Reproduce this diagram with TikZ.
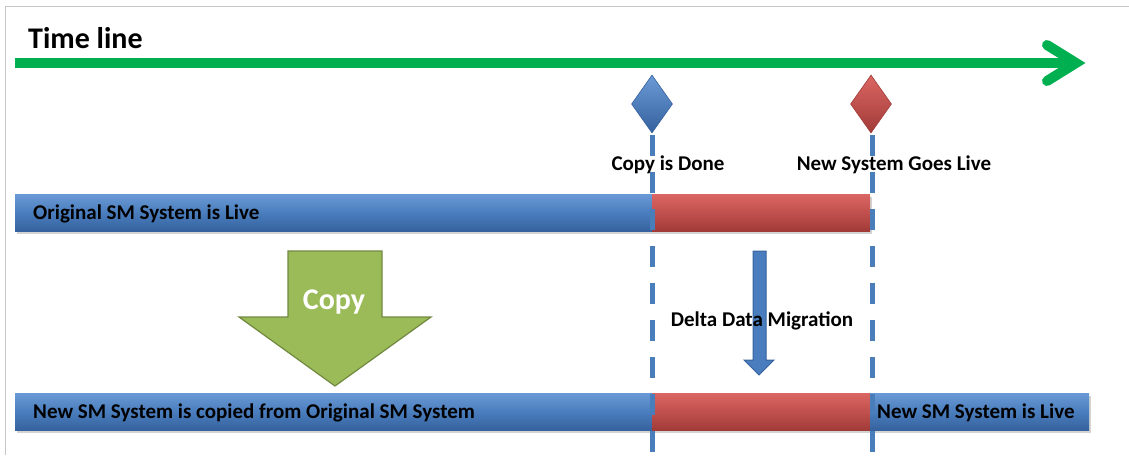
\documentclass[tikz,border=0pt]{standalone}
\usepackage{fontspec}
\setmainfont{Carlito}
\usetikzlibrary{shapes.geometric,shadows}
\definecolor{tlgreen}{HTML}{00B050}
\definecolor{bluemid}{HTML}{4A7DBD}
\definecolor{bluetop}{HTML}{6A9AD6}
\definecolor{bluebot}{HTML}{36629E}
\definecolor{redmid}{HTML}{C0504D}
\definecolor{redtop}{HTML}{DB6663}
\definecolor{redbot}{HTML}{A13B38}
\definecolor{copyfill}{HTML}{9BBB59}
\definecolor{copyedge}{HTML}{71893F}
\definecolor{dashblue}{HTML}{4A7EBB}
\tikzset{
  barbase/.style={rectangle, inner sep=0pt, anchor=north west, minimum height=37pt,
    drop shadow={shadow xshift=1.5pt, shadow yshift=-2.5pt, opacity=0.35}},
  bluebar/.style={barbase, top color=bluetop, bottom color=bluebot, middle color=bluemid},
  redbar/.style={barbase, top color=redtop, bottom color=redbot, middle color=redmid},
  barlabel/.style={anchor=west, font=\bfseries\fontsize{21}{23}\selectfont, inner sep=0pt, text=black},
  toplabel/.style={font=\bfseries\fontsize{21}{23}\selectfont, inner sep=0pt, text=black},
  milestone/.style={dash pattern=on 21pt off 16pt, line width=5pt, draw=dashblue},
  gem/.style={diamond, inner sep=0pt, minimum width=41pt, minimum height=58pt},
}
\begin{document}
\begin{tikzpicture}[x=1pt,y=-1pt]
\useasboundingbox (0,0) rectangle (1129,455);
% frame
\draw[black!22, line width=1pt] (5,455) -- (5,6) -- (1129,6);
% title
\node[anchor=west, inner sep=0pt, font=\bfseries\fontsize{30}{32}\selectfont] (title) at (28,38) {Time line};
% timeline
\coordinate (tlstart) at (15,63);
\coordinate (tlend) at (1078,63);
\coordinate (tltip) at (1076,63);
\coordinate (tlup) at (1047,45);
\coordinate (tldown) at (1047,81);
\draw[tlgreen, line width=10pt] (tlstart) -- (tlend);
\draw[tlgreen, line width=10pt, line cap=round, line join=miter] (tlup) -- (tltip) -- (tldown);
% bars top
\node[bluebar, minimum width=637pt] (origbar) at (15,194) {};
\node[redbar, minimum width=218pt] (deltatop) at (652,194) {};
% bars bottom
\node[bluebar, minimum width=637pt] (newcopybar) at (15,393) {};
\node[redbar, minimum width=218pt] (deltabot) at (652,393) {};
\node[bluebar, minimum width=219pt] (newlivebar) at (870,393) {};
% milestones
\coordinate (d1top) at (652,135);
\coordinate (d1bot) at (652,453);
\coordinate (d2top) at (872,135);
\coordinate (d2bot) at (872,453);
\draw[milestone] (d1top) -- (d1bot);
\draw[milestone] (d2top) -- (d2bot);
\node[gem, top color=bluetop, bottom color=bluebot, draw=bluebot, line width=0.6pt] (copydone) at (652,104) {};
\node[gem, top color=redtop, bottom color=redbot, draw=redbot, line width=0.6pt] (golive) at (871,104) {};
% copy arrow
\draw[fill=copyfill, draw=copyedge, line width=1.2pt, line join=miter]
  (288,251) -- (382,251) -- (382,317) -- (431,317) -- (335,386) -- (239,317) -- (288,317) -- cycle;
\node[font=\bfseries\fontsize{30}{32}\selectfont, text=white, inner sep=0pt] (copylbl) at (334,302) {Copy};
% delta arrow
\draw[fill=bluemid, draw=bluebot, line width=1pt, line join=miter]
  (753,251) -- (766,251) -- (766,360) -- (774,360) -- (759,375) -- (744,360) -- (753,360) -- cycle;
% labels
\node[toplabel] (cdlbl) at (668,165) {Copy is Done};
\node[toplabel] (gllbl) at (894,165) {New System Goes Live};
\node[toplabel] (ddlbl) at (762,321) {Delta Data Migration};
\node[barlabel] (origlbl) at (33,214) {Original SM System is Live};
\node[barlabel] (copiedlbl) at (33,413) {New SM System is copied from Original SM System};
\node[barlabel] (livelbl) at (877,413) {New SM System is Live};
\end{tikzpicture}
\end{document}
